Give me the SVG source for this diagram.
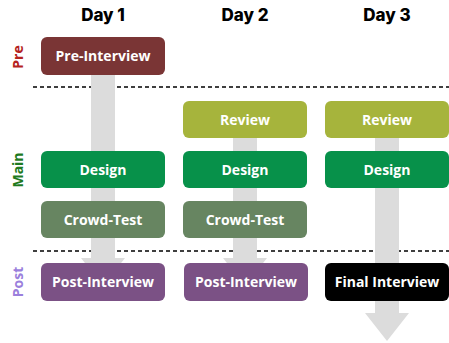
<svg xmlns="http://www.w3.org/2000/svg" width="449" height="343" viewBox="0 0 449 343">
<style>
.day{font-family:"Inter","Liberation Sans",sans-serif;font-weight:800;font-size:17px;fill:#000;text-anchor:middle}
.lbl{font-family:"Open Sans","Noto Sans",sans-serif;font-weight:700;font-size:14px;fill:#fff;text-anchor:middle}
.side{font-family:"Open Sans","Noto Sans",sans-serif;font-weight:700;font-size:14px;text-anchor:middle}
.arr{fill:#dcdcdc}
.dash{stroke:#000;stroke-width:1.5;stroke-dasharray:4 3;fill:none}
</style>
<rect width="449" height="343" fill="#fff"/>
<g id="headers">
<text class="day" x="103" y="21">Day 1</text>
<text class="day" x="245" y="21">Day 2</text>
<text class="day" x="387" y="21">Day 3</text>
</g>
<g id="phases">
<text class="side" fill="#b5231d" transform="translate(22.5,57) rotate(-90)">Pre</text>
<text class="side" fill="#1e7a1e" transform="translate(22.5,170) rotate(-90)">Main</text>
<text class="side" fill="#9b7fdc" transform="translate(22.5,282) rotate(-90)">Post</text>
</g>
<g id="separators">
<line class="dash" x1="33" y1="87" x2="449" y2="87"/>
<line class="dash" x1="33" y1="251" x2="449" y2="251"/>
</g>
<g id="connectors">
<polygon class="arr" points="91,75 115,75 115,258 125,258 103,286 81,258 91,258"/>
<polygon class="arr" points="233,138 257,138 257,258 267,258 245,286 223,258 233,258"/>
<polygon class="arr" points="375,138 399,138 399,313 409,313 387,341 365,313 375,313"/>
</g>
<g id="pre1"><rect x="41" y="37" width="124" height="38" rx="6" fill="#7a3535"/><text class="lbl" x="103" y="61.3">Pre-Interview</text></g>
<g id="review2"><rect x="183" y="101" width="124" height="37" rx="6" fill="#a6b43c"/><text class="lbl" x="245" y="124.8">Review</text></g>
<g id="review3"><rect x="325" y="101" width="124" height="37" rx="6" fill="#a6b43c"/><text class="lbl" x="387" y="124.8">Review</text></g>
<g id="design1"><rect x="41" y="151" width="124" height="37" rx="6" fill="#07914a"/><text class="lbl" x="103" y="174.8">Design</text></g>
<g id="design2"><rect x="183" y="151" width="124" height="37" rx="6" fill="#07914a"/><text class="lbl" x="245" y="174.8">Design</text></g>
<g id="design3"><rect x="325" y="151" width="124" height="37" rx="6" fill="#07914a"/><text class="lbl" x="387" y="174.8">Design</text></g>
<g id="crowd1"><rect x="41" y="201" width="124" height="37" rx="6" fill="#678561"/><text class="lbl" x="103" y="224.8">Crowd-Test</text></g>
<g id="crowd2"><rect x="183" y="201" width="124" height="37" rx="6" fill="#678561"/><text class="lbl" x="245" y="224.8">Crowd-Test</text></g>
<g id="post1"><rect x="41" y="263" width="124" height="38" rx="6" fill="#7b5185"/><text class="lbl" x="103" y="287.3">Post-Interview</text></g>
<g id="post2"><rect x="184" y="263" width="124" height="38" rx="6" fill="#7b5185"/><text class="lbl" x="246" y="287.3">Post-Interview</text></g>
<g id="final3"><rect x="325" y="263" width="124" height="38" rx="6" fill="#000"/><text class="lbl" x="387" y="287.3">Final Interview</text></g>
</svg>
